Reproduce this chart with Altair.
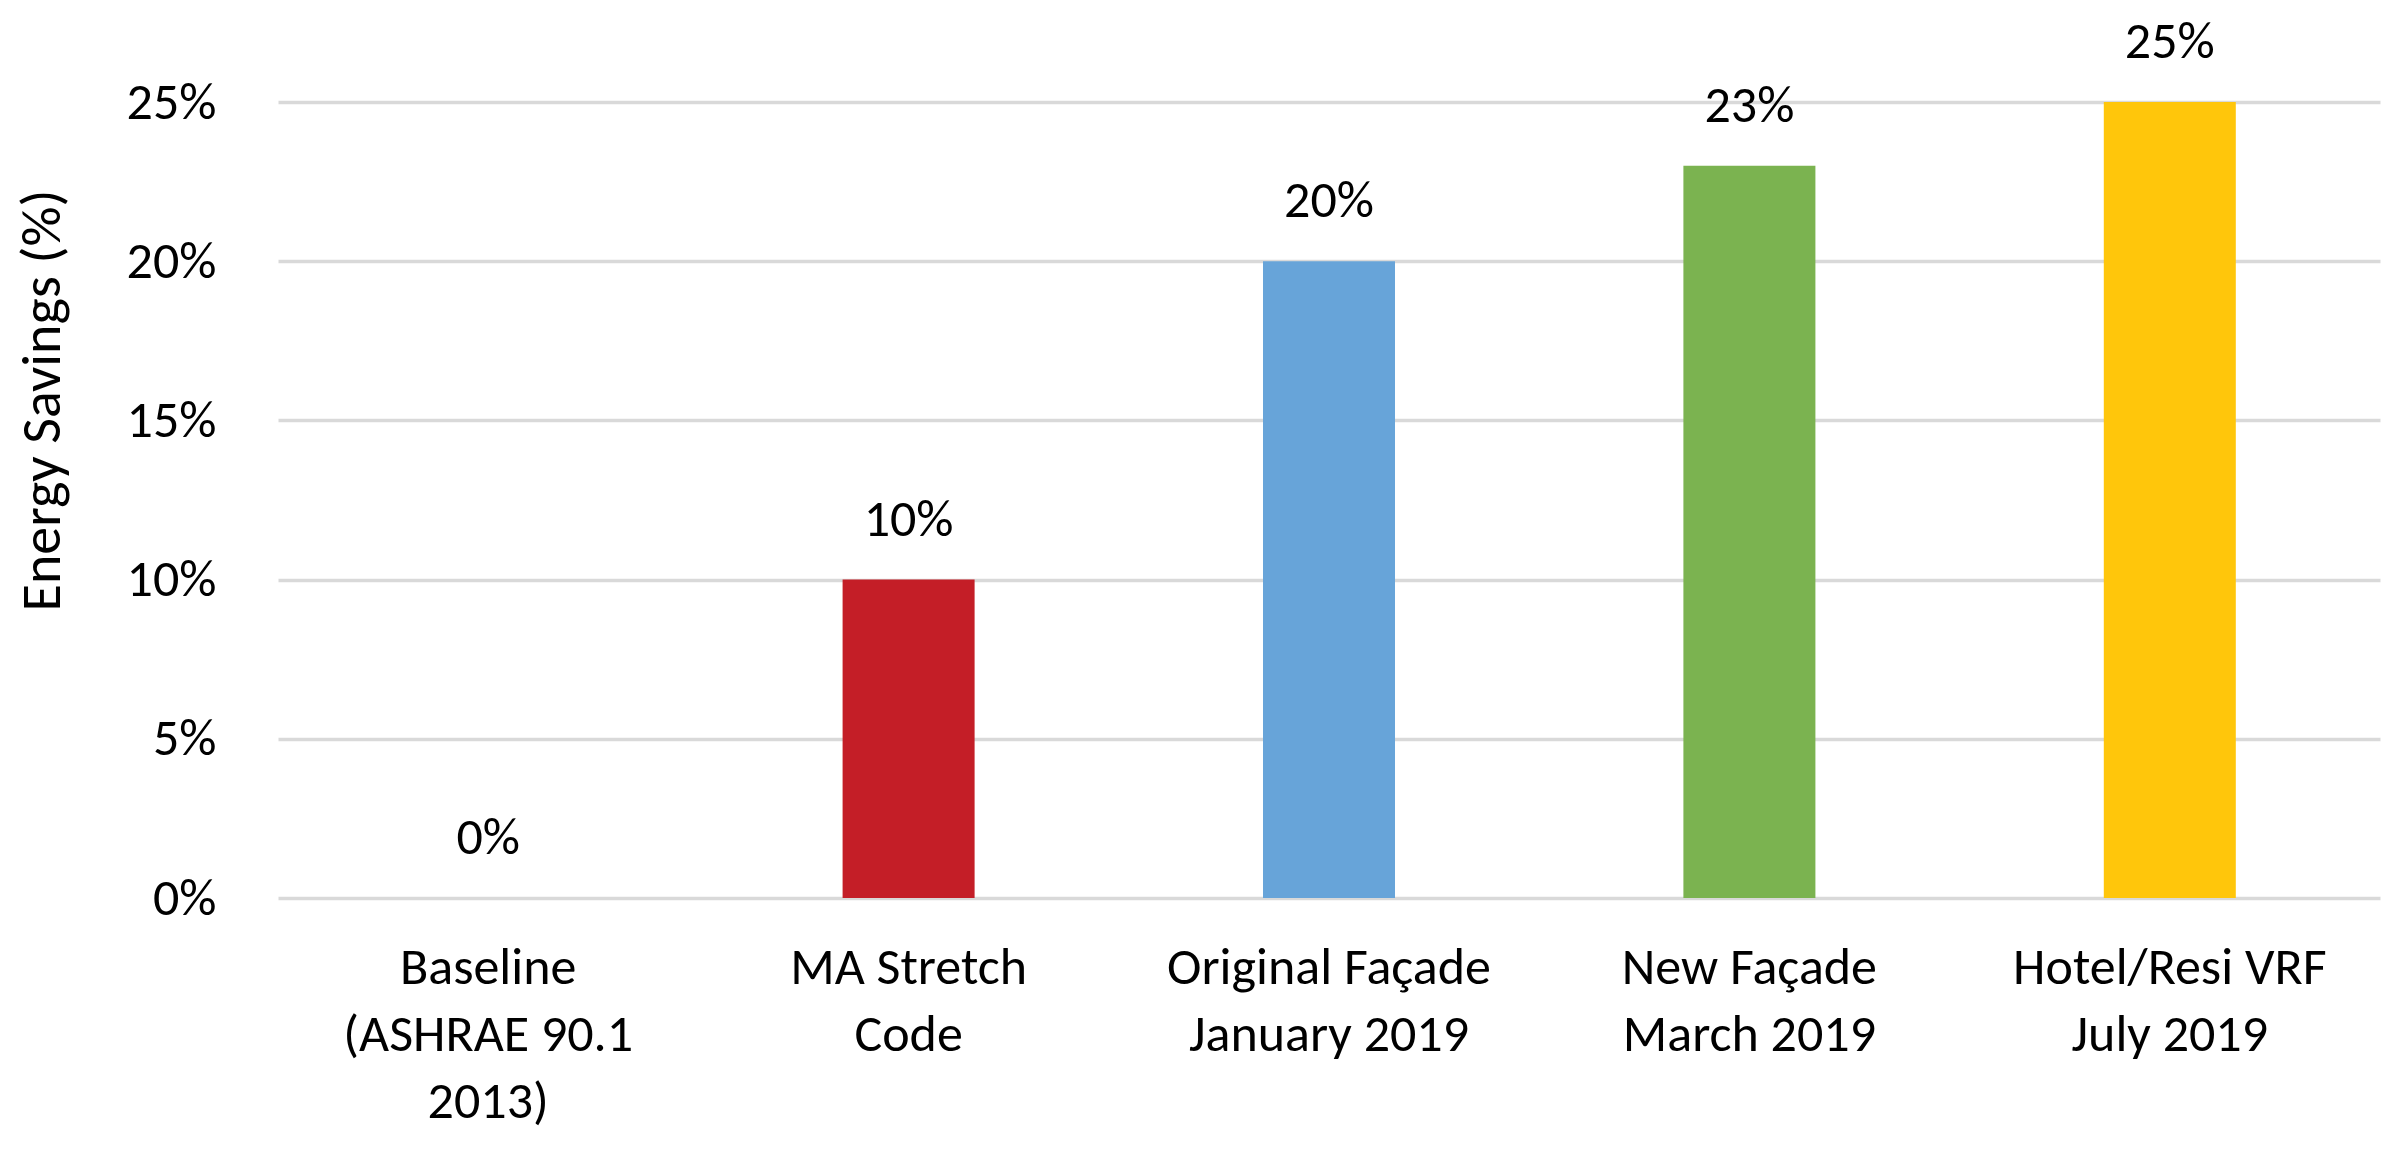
import altair as alt
import pandas as pd

# Data
label_lines = [
    ["Baseline", "(ASHRAE 90.1", "2013)"],
    ["MA Stretch", "Code"],
    ["Original Façade", "January 2019"],
    ["New Façade", "March 2019"],
    ["Hotel/Resi VRF", "July 2019"],
]
categories = ["|".join(l) for l in label_lines]
savings = [0.00, 0.10, 0.20, 0.23, 0.25]
colors = ["#FFFFFF", "#C41E27", "#67A4D9", "#7BB350", "#FFC60B"]
y_ticks = [0, 0.05, 0.10, 0.15, 0.20, 0.25]

df = pd.DataFrame({"cat": categories, "val": savings, "color": colors})

FONT = "Carlito, Calibri, Lato, sans-serif"
FS = 52

x_enc = alt.X(
    "cat:N",
    sort=categories,
    scale=alt.Scale(paddingInner=0.686, paddingOuter=0.343),
    axis=alt.Axis(
        title=None,
        labelExpr="split(datum.label, '|')",
        labelAngle=0,
        labelFont=FONT,
        labelFontSize=FS,
        labelColor="#000000",
        labelLineHeight=67,
        labelPadding=44,
        labelBaseline="top",
        ticks=False,
        domain=False,
        grid=False,
        labelLimit=600,
    ),
)

y_enc = alt.Y(
    "val:Q",
    scale=alt.Scale(domain=[0, 0.25], nice=False, zero=True),
    axis=alt.Axis(
        title="Energy Savings (%)",
        values=y_ticks,
        format=".0%",
        labelFont=FONT,
        labelFontSize=FS,
        labelColor="#000000",
        labelPadding=62,
        ticks=False,
        domain=False,
        grid=True,
        gridColor="#D9D9D9",
        gridWidth=3.5,
        titleFont=FONT,
        titleFontSize=56,
        titleFontWeight="normal",
        titleColor="#000000",
        titleAngle=270,
        titleX=-236,
        titleY=298,
        titleAlign="center",
        titleBaseline="middle",
    ),
)

bars = alt.Chart(df).mark_bar().encode(
    x=x_enc,
    y=y_enc,
    color=alt.Color("color:N", scale=None),
)

text = alt.Chart(df).mark_text(
    font=FONT, fontSize=FS, color="#000000", baseline="middle", dy=-60
).encode(
    x=alt.X("cat:N", sort=categories),
    y=alt.Y("val:Q"),
    text=alt.Text("val:Q", format=".0%"),
)

chart = (
    alt.layer(bars, text)
    .properties(
        width=2102,
        height=796,
        padding={"left": 270, "top": 94, "right": 10, "bottom": 250},
        autosize=alt.AutoSizeParams(type="none"),
        background="#FFFFFF",
    )
    .configure_view(stroke=None)
)

chart.save("out.html", embed_options={"renderer": "svg", "actions": False})
